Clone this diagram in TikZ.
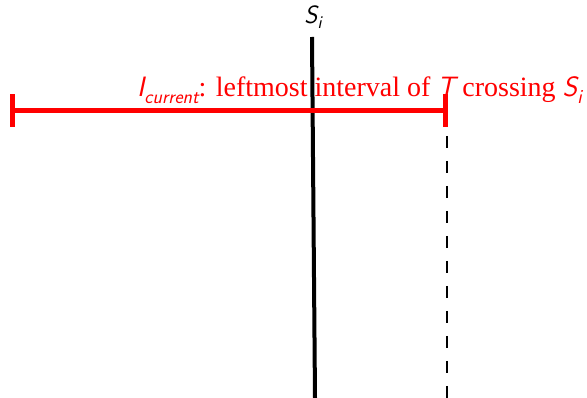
\documentclass[tikz,border=0pt]{standalone}
\usepackage{fontspec}
\setmainfont{Liberation Serif}
\newcommand{\sv}[1]{{\sffamily\itshape #1}}
\begin{document}
\begin{tikzpicture}[x=1pt,y=-1pt,
  redline/.style={draw=red, line width=5pt},
  blackline/.style={draw=black, line width=4pt},
  dashline/.style={draw=black, line width=1.5pt, dash pattern=on 12pt off 13pt}]
\useasboundingbox (0,0) rectangle (587,398);
\coordinate (stop) at (312,37);
\coordinate (sbot) at (315,398);
\coordinate (lend) at (12,111);
\coordinate (rend) at (445,111);
\coordinate (dtop) at (447,111);
\coordinate (dbot) at (447,398);
\draw[dashline] (dtop) -- (dbot);
\draw[blackline] (stop) -- (sbot);
\node[font=\fontsize{25}{29}\selectfont, inner sep=0pt] (slabel) at (313,17) {\sv{S}\raisebox{-0.22em}{\fontsize{18}{21}\selectfont\sv{i}}};
\draw[redline] (lend) -- (rend);
\draw[redline] ([yshift=-16pt]lend) -- ([yshift=17pt]lend);
\draw[redline] ([yshift=-16pt]rend) -- ([yshift=17pt]rend);
\node[text=red, anchor=base east, inner sep=0pt, font=\fontsize{28}{32}\selectfont] (label) at (582,97)
 {\sv{I}\raisebox{-0.22em}{\fontsize{19.5}{23}\selectfont\sv{current}}: leftmost interval of \sv{T} crossing \sv{S}\raisebox{-0.22em}{\fontsize{20}{23}\selectfont\sv{i}}};
\end{tikzpicture}
\end{document}
